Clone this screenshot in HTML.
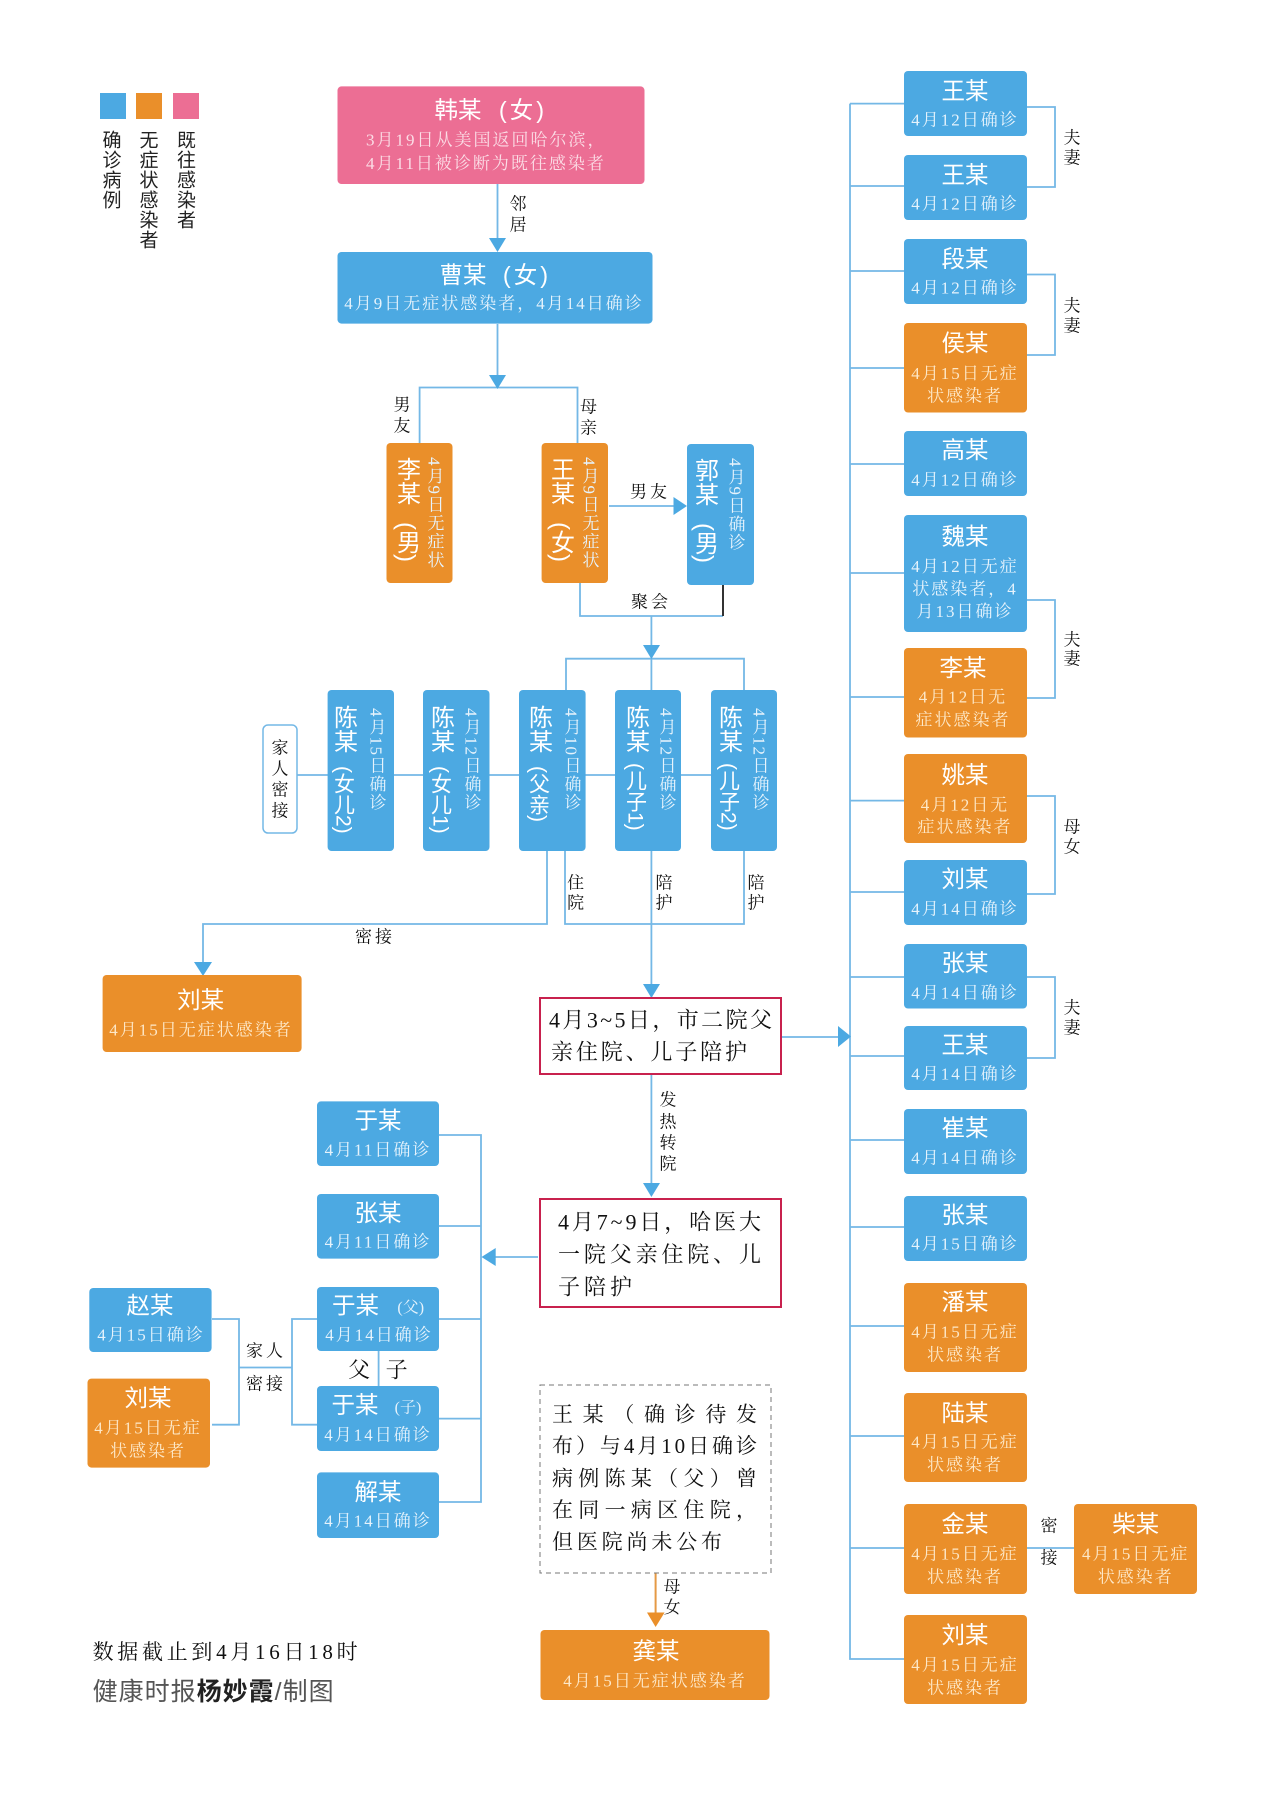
<!DOCTYPE html>
<html lang="zh"><head><meta charset="utf-8"><style>
html,body{margin:0;padding:0;background:#fff}
svg{display:block}
text{dominant-baseline:central}
.bl{fill:#4ca9e2}.or{fill:#ea8f2a}.pk{fill:#ec6e94}
.t{font-family:"Liberation Sans","Noto Sans CJK SC",sans-serif;font-size:23.5px;fill:#fff;text-anchor:middle}
.s{font-family:"Liberation Serif","Noto Serif CJK SC",serif;font-size:17px;letter-spacing:2px;fill:#e6f3fc;text-anchor:middle}
.so{fill:#fde8c8}.sp{fill:#fbdde6}
.l{font-family:"Liberation Serif","Noto Serif CJK SC",serif;font-size:17px;fill:#111;text-anchor:middle}
.n{font-family:"Liberation Serif","Noto Serif CJK SC",serif;font-size:22px;fill:#111}
.vt{font-family:"Liberation Sans","Noto Sans CJK SC",sans-serif;font-size:24px;fill:#fff;writing-mode:vertical-rl}
.vp{font-size:21px}
.vs{font-family:"Liberation Serif","Noto Serif CJK SC",serif;font-size:17px;letter-spacing:1.5px;fill:#e6f3fc;writing-mode:vertical-rl}
.lg{font-family:"Liberation Sans","Noto Sans CJK SC",sans-serif;font-size:19px;letter-spacing:1px;fill:#222;writing-mode:vertical-rl}
path.w{fill:none;stroke:#74b8e6;stroke-width:1.8}
</style></head><body>
<svg width="1280" height="1806" viewBox="0 0 1280 1806" xmlns="http://www.w3.org/2000/svg">
<rect width="1280" height="1806" fill="#fff"/>

<!-- connectors -->
<path class="w" d="M497.5 184V240M497.5 324V378M419.6 443V387.5H577.5V443M609 506H675"/>
<path class="w" d="M580 583V616H723"/>
<path d="M723 585V616" fill="none" stroke="#333" stroke-width="2"/>
<path class="w" d="M651.4 616V1078M566 690V658.7H744V690M297 775H711M547 851V924H203V962M565 851V924H744V851M781 1037H840M651.4 1074V1185"/>
<path class="w" d="M850 103.6V1659H904M850 186H904M850 271H904M850 368H904M850 464H904M850 573H904M850 697H904M850 800.6H904M850 892H904M850 977H904M850 1056H904M850 1140H904M850 1227H904M850 1326H904M850 1436H904M850 1548H904M850 103.6H904"/>
<path class="w" d="M1027 107H1055V187H1027M1027 274.5H1055V355H1027M1027 600H1055V698H1027M1027 796H1055V894H1027M1027 977H1055V1058H1027M1027 1548H1074"/>
<path class="w" d="M439 1135H481V1502H439M439 1226H481M439 1319H481M439 1418.6H481M538 1257H490"/>
<path class="w" d="M212 1319H239V1424.7H212M239 1367.5H292M317 1319H292V1424.7H317M378.6 1351V1386"/>
<path d="M655.6 1572V1615" fill="none" stroke="#e59a45" stroke-width="2"/>

<!-- arrowheads -->
<g fill="#4ca9e2">
<path d="M489 238H506L497.5 252Z"/><path d="M489 375H506L497.5 389Z"/>
<path d="M673.5 497V515L687 506Z"/>
<path d="M643 645H660L651.4 659Z"/>
<path d="M194 962H212L203 976Z"/>
<path d="M643 984H660L651.4 998Z"/>
<path d="M643 1183H660L651.4 1197Z"/>
<path d="M838 1026V1047L851 1036.5Z"/>
<path d="M495.7 1248V1266L481.5 1257Z"/>
</g>
<path d="M647 1612.5H664.6L655.6 1627Z" fill="#ea8f2a"/>

<!-- legend -->
<rect class="bl" x="100" y="93" width="26" height="26"/><rect class="or" x="136" y="93" width="26" height="26"/><rect class="pk" x="173" y="93" width="26" height="26"/>
<text class="lg" x="110" y="130">确诊病例</text>
<text class="lg" x="147" y="130">无症状感染者</text>
<text class="lg" x="184.5" y="130">既往感染者</text>

<!-- top chain -->
<rect class="pk" x="337.5" y="86.4" width="307" height="97.6" rx="4"/>
<text class="t" x="458" y="110">韩某</text><text class="t" x="523" y="110" style="letter-spacing:3px">(女)</text>
<text class="s sp" x="366" y="140" style="text-anchor:start">3月19日从美国返回哈尔滨，</text>
<text class="s sp" x="366" y="163.6" style="text-anchor:start">4月11日被诊断为既往感染者</text>
<text class="l" x="518" y="204">邻</text><text class="l" x="518" y="225">居</text>
<rect class="bl" x="337.5" y="252" width="315" height="71.6" rx="4"/>
<text class="t" x="463" y="275">曹某</text><text class="t" x="527" y="275" style="letter-spacing:3px">(女)</text>
<text class="s" x="494" y="303.5">4月9日无症状感染者，4月14日确诊</text>
<text class="l" x="402" y="405">男</text><text class="l" x="402" y="426">友</text>
<text class="l" x="588.5" y="407">母</text><text class="l" x="588.5" y="428">亲</text>

<rect class="or" x="386.5" y="443" width="66" height="140" rx="4"/>
<text class="vt" x="406" y="457">李某</text><text class="vt" x="406" y="522">(男)</text><text class="vs so" x="434" y="457">4月9日无症状</text>
<rect class="or" x="541.6" y="443" width="66.4" height="140" rx="4"/>
<text class="vt" x="560" y="457">王某</text><text class="vt" x="560" y="522">(女)</text><text class="vs so" x="589" y="457">4月9日无症状</text>
<rect class="bl" x="687" y="444" width="67" height="141" rx="4"/>
<text class="vt" x="704" y="458">郭某</text><text class="vt" x="704" y="523">(男)</text><text class="vs" x="735" y="458">4月9日确诊</text>
<text class="l" x="650" y="492" style="letter-spacing:3px">男友</text>
<text class="l" x="651" y="602" style="letter-spacing:3px">聚会</text>

<!-- Chen family -->
<rect x="263" y="725" width="34" height="108" rx="5" fill="#fff" stroke="#74b8e6" stroke-width="1.5"/>
<text class="l" x="280" y="748">家</text><text class="l" x="280" y="769">人</text><text class="l" x="280" y="790">密</text><text class="l" x="280" y="811">接</text>
<rect class="bl" x="327.6" y="690" width="66.4" height="161" rx="4"/>
<text class="vt" x="343" y="705">陈某</text><text class="vt vp" x="343" y="766">(女儿2)</text><text class="vs" x="376" y="708">4月15日确诊</text>
<rect class="bl" x="423" y="690" width="66.5" height="161" rx="4"/>
<text class="vt" x="440" y="705">陈某</text><text class="vt vp" x="440" y="766">(女儿1)</text><text class="vs" x="471" y="708">4月12日确诊</text>
<rect class="bl" x="519" y="690" width="66.6" height="161" rx="4"/>
<text class="vt" x="538" y="705">陈某</text><text class="vt vp" x="538" y="766">(父亲)</text><text class="vs" x="571" y="708">4月10日确诊</text>
<rect class="bl" x="615" y="690" width="66" height="161" rx="4"/>
<text class="vt" x="635" y="705">陈某</text><text class="vt vp" x="635" y="763">(儿子1)</text><text class="vs" x="666" y="708">4月12日确诊</text>
<rect class="bl" x="711" y="690" width="66" height="161" rx="4"/>
<text class="vt" x="728" y="705">陈某</text><text class="vt vp" x="728" y="763">(儿子2)</text><text class="vs" x="759" y="708">4月12日确诊</text>
<text class="l" x="575.6" y="883">住</text><text class="l" x="575.6" y="903">院</text>
<text class="l" x="664" y="883">陪</text><text class="l" x="664" y="903">护</text>
<text class="l" x="756" y="883">陪</text><text class="l" x="756" y="903">护</text>
<text class="l" x="375" y="937" style="letter-spacing:3px">密接</text>

<rect class="or" x="102.6" y="975" width="199" height="77" rx="4"/>
<text class="t" x="200.6" y="1000">刘某</text>
<text class="s so" x="201" y="1030">4月15日无症状感染者</text>

<!-- hospital boxes -->
<rect x="540" y="998" width="241" height="76" fill="#fff" stroke="#c8214e" stroke-width="2"/>
<text class="n" x="549" y="1020" textLength="223" lengthAdjust="spacing">4月3~5日，市二院父</text>
<text class="n" x="551" y="1052" textLength="196" lengthAdjust="spacing">亲住院、儿子陪护</text>
<text class="l" x="668" y="1100">发</text><text class="l" x="668" y="1122">热</text><text class="l" x="668" y="1143">转</text><text class="l" x="668" y="1164">院</text>
<rect x="540" y="1199" width="241" height="108" fill="#fff" stroke="#c8214e" stroke-width="2"/>
<text class="n" x="558" y="1222" textLength="203" lengthAdjust="spacing">4月7~9日，哈医大</text>
<text class="n" x="558" y="1254.5" textLength="203" lengthAdjust="spacing">一院父亲住院、儿</text>
<text class="n" x="558" y="1287" textLength="74" lengthAdjust="spacing">子陪护</text>

<!-- left cluster -->
<rect class="bl" x="317" y="1101.4" width="122" height="64.6" rx="4"/><text class="t" x="378" y="1120.6">于某</text><text class="s" x="378" y="1150">4月11日确诊</text>
<rect class="bl" x="317" y="1194" width="122" height="64.6" rx="4"/><text class="t" x="378" y="1213">张某</text><text class="s" x="378" y="1242">4月11日确诊</text>
<rect class="bl" x="317" y="1287" width="122" height="64" rx="4"/><text class="t" x="355.5" y="1305.5">于某</text><text class="s" x="410.7" y="1308" style="letter-spacing:0;font-size:16px">(父)</text><text class="s" x="379" y="1335">4月14日确诊</text>
<rect class="bl" x="317" y="1386" width="122" height="65" rx="4"/><text class="t" x="355" y="1405">于某</text><text class="s" x="408" y="1408" style="letter-spacing:0;font-size:16px">(子)</text><text class="s" x="378" y="1435">4月14日确诊</text>
<rect class="bl" x="317" y="1472.4" width="122" height="65.6" rx="4"/><text class="t" x="378" y="1492">解某</text><text class="s" x="378" y="1521">4月14日确诊</text>
<text class="n" x="359" y="1370" style="text-anchor:middle">父</text><text class="n" x="396.6" y="1370" style="text-anchor:middle">子</text>
<rect class="bl" x="89.3" y="1288" width="122.3" height="64" rx="4"/><text class="t" x="150" y="1305.5">赵某</text><text class="s" x="151" y="1335">4月15日确诊</text>
<rect class="or" x="87.5" y="1378.6" width="122.5" height="89" rx="4"/><text class="t" x="148" y="1398">刘某</text><text class="s so" x="148" y="1428">4月15日无症</text><text class="s so" x="148" y="1451">状感染者</text>
<text class="l" x="266" y="1351" style="letter-spacing:3px">家人</text><text class="l" x="266" y="1384" style="letter-spacing:3px">密接</text>

<!-- dashed note -->
<rect x="540" y="1385" width="231" height="188" fill="#fff" stroke="#777" stroke-width="1" stroke-dasharray="5 4"/>
<text class="n" x="552" y="1414.5" textLength="205" lengthAdjust="spacing" style="font-size:21px">王某（确诊待发</text>
<text class="n" x="552" y="1446" textLength="205" lengthAdjust="spacing" style="font-size:21px">布）与4月10日确诊</text>
<text class="n" x="552" y="1478.6" textLength="205" lengthAdjust="spacing" style="font-size:21px">病例陈某（父）曾</text>
<text class="n" x="552" y="1510" textLength="205" lengthAdjust="spacing" style="font-size:21px">在同一病区住院，</text>
<text class="n" x="552" y="1542" textLength="170" lengthAdjust="spacing" style="font-size:21px">但医院尚未公布</text>
<text class="l" x="672" y="1587">母</text><text class="l" x="672" y="1607.5">女</text>
<rect class="or" x="540.5" y="1630" width="229" height="70" rx="4"/>
<text class="t" x="656" y="1651">龚某</text><text class="s so" x="655" y="1681">4月15日无症状感染者</text>

<!-- footer -->
<text class="n" x="92.6" y="1652" textLength="265" lengthAdjust="spacing" style="font-size:21px">数据截止到4月16日18时</text>
<text x="92.6" y="1692" textLength="241" lengthAdjust="spacing" style="font-family:'Liberation Sans','Noto Sans CJK SC',sans-serif;font-size:25px;fill:#555">健康时报<tspan style="font-weight:700;fill:#222">杨妙霞</tspan>/制图</text>

<!-- right column -->
<rect class="bl" x="904" y="71" width="123" height="65" rx="4"/><text class="t" x="965" y="91">王某</text><text class="s" x="965" y="120">4月12日确诊</text>
<rect class="bl" x="904" y="155" width="123" height="65" rx="4"/><text class="t" x="965" y="175">王某</text><text class="s" x="965" y="204">4月12日确诊</text>
<rect class="bl" x="904" y="239" width="123" height="65" rx="4"/><text class="t" x="965" y="259">段某</text><text class="s" x="965" y="288">4月12日确诊</text>
<rect class="or" x="904" y="323" width="123" height="89.5" rx="4"/><text class="t" x="965" y="343">侯某</text><text class="s so" x="965" y="373.6">4月15日无症</text><text class="s so" x="965" y="396">状感染者</text>
<rect class="bl" x="904" y="431" width="123" height="65" rx="4"/><text class="t" x="965" y="450">高某</text><text class="s" x="965" y="480">4月12日确诊</text>
<rect class="bl" x="904" y="515" width="123" height="117" rx="4"/><text class="t" x="965" y="536.6">魏某</text><text class="s" x="965" y="566.5">4月12日无症</text><text class="s" x="965" y="589">状感染者，4</text><text class="s" x="965" y="611.6">月13日确诊</text>
<rect class="or" x="904" y="648" width="123" height="89.5" rx="4"/><text class="t" x="963" y="668">李某</text><text class="s so" x="963" y="697">4月12日无</text><text class="s so" x="963" y="720">症状感染者</text>
<rect class="or" x="904" y="754" width="123" height="89" rx="4"/><text class="t" x="965" y="775">姚某</text><text class="s so" x="965" y="805">4月12日无</text><text class="s so" x="965" y="827">症状感染者</text>
<rect class="bl" x="904" y="860" width="123" height="65" rx="4"/><text class="t" x="965" y="879">刘某</text><text class="s" x="965" y="909">4月14日确诊</text>
<rect class="bl" x="904" y="944" width="123" height="64.5" rx="4"/><text class="t" x="965" y="963">张某</text><text class="s" x="965" y="993">4月14日确诊</text>
<rect class="bl" x="904" y="1026" width="123" height="64" rx="4"/><text class="t" x="965" y="1045">王某</text><text class="s" x="965" y="1074">4月14日确诊</text>
<rect class="bl" x="904" y="1109" width="123" height="65" rx="4"/><text class="t" x="965" y="1128">崔某</text><text class="s" x="965" y="1158">4月14日确诊</text>
<rect class="bl" x="904" y="1196" width="123" height="65" rx="4"/><text class="t" x="965" y="1215">张某</text><text class="s" x="965" y="1244">4月15日确诊</text>
<rect class="or" x="904" y="1283" width="123" height="89" rx="4"/><text class="t" x="965" y="1302">潘某</text><text class="s so" x="965" y="1332">4月15日无症</text><text class="s so" x="965" y="1355">状感染者</text>
<rect class="or" x="904" y="1393" width="123" height="89" rx="4"/><text class="t" x="965" y="1413">陆某</text><text class="s so" x="965" y="1442">4月15日无症</text><text class="s so" x="965" y="1465">状感染者</text>
<rect class="or" x="904" y="1504" width="123" height="90" rx="4"/><text class="t" x="965" y="1524">金某</text><text class="s so" x="965" y="1554">4月15日无症</text><text class="s so" x="965" y="1577">状感染者</text>
<rect class="or" x="904" y="1615" width="123" height="89" rx="4"/><text class="t" x="965" y="1635">刘某</text><text class="s so" x="965" y="1665">4月15日无症</text><text class="s so" x="965" y="1688">状感染者</text>
<rect class="or" x="1074" y="1504" width="123" height="90" rx="4"/><text class="t" x="1135.7" y="1524">柴某</text><text class="s so" x="1135.7" y="1554">4月15日无症</text><text class="s so" x="1135.7" y="1577">状感染者</text>

<text class="l" x="1072" y="138">夫</text><text class="l" x="1072" y="158">妻</text>
<text class="l" x="1072" y="306">夫</text><text class="l" x="1072" y="326">妻</text>
<text class="l" x="1072" y="640">夫</text><text class="l" x="1072" y="659">妻</text>
<text class="l" x="1072" y="827">母</text><text class="l" x="1072" y="847">女</text>
<text class="l" x="1072" y="1008">夫</text><text class="l" x="1072" y="1028">妻</text>
<text class="l" x="1049" y="1526">密</text><text class="l" x="1049" y="1558">接</text>
</svg>
</body></html>
